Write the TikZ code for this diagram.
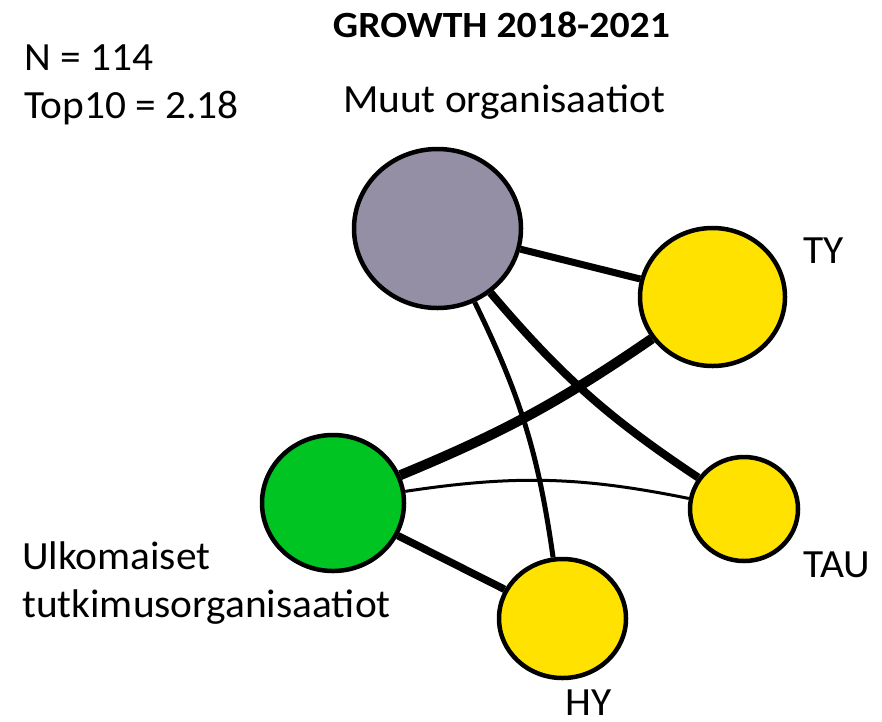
\documentclass[tikz,border=0pt]{standalone}
\usepackage{graphicx}
\usepackage{fontspec}
\setmainfont{Carlito}
\usetikzlibrary{shapes.geometric,backgrounds}
\definecolor{greyc}{RGB}{148,143,165}
\definecolor{yellowc}{RGB}{255,226,0}
\definecolor{greenc}{RGB}{0,196,34}
\newcommand{\widetxt}[1]{\scalebox{1.035}[1]{#1}}
\newcommand{\widettl}[1]{\scalebox{1.075}[1]{#1}}
\tikzset{
  org/.style={ellipse, draw=black, line width=4.5pt, inner sep=0pt},
  lbl/.style={inner sep=0pt, font=\fontsize{40}{48}\selectfont},
  ttl/.style={inner sep=0pt, font=\fontsize{37}{44}\selectfont\bfseries},
  link/.style={draw=black, line cap=butt}
}
\begin{document}
\begin{tikzpicture}[x=1pt,y=1pt]
\useasboundingbox (0,0) rectangle (882,-721);
% nodes
\node[org, fill=greyc, minimum width=167pt, minimum height=159pt] (muut) at (437.5,-228.5) {};
\node[org, fill=yellowc, minimum width=145pt, minimum height=138pt] (ty) at (712.5,-297) {};
\node[org, fill=greenc, minimum width=142pt, minimum height=136pt] (ulk) at (333,-503) {};
\node[org, fill=yellowc, minimum width=108pt, minimum height=104pt] (tau) at (744,-509) {};
\node[org, fill=yellowc, minimum width=127pt, minimum height=119pt] (hy) at (562.5,-618.5) {};
% texts
\node[ttl, anchor=base] (title) at (501.5,-37) {\widettl{GROWTH 2018-2021}};
\node[lbl, anchor=base west] (n) at (24,-70) {\widetxt{N = 114}};
\node[lbl, anchor=base west] (top) at (24,-118) {\widetxt{Top10 = 2.18}};
\node[lbl, anchor=base] (lmuut) at (504,-112) {\widetxt{Muut organisaatiot}};
\node[lbl, anchor=base west] (lty) at (803,-263) {\widetxt{TY}};
\node[lbl, anchor=base west] (ltau) at (803,-577) {\widetxt{TAU}};
\node[lbl, anchor=base west] (lhy) at (565,-715) {\widetxt{HY}};
\node[lbl, anchor=base west] (lulk1) at (22,-569) {\widetxt{Ulkomaiset}};
\node[lbl, anchor=base west] (lulk2) at (22,-617) {\widetxt{tutkimusorganisaatiot}};
% links
\begin{pgfonlayer}{background}
\fill[white] (0,0) rectangle (882,-721);
\draw[link, line width=7pt] (muut) -- (ty);
\draw[link, line width=8pt] (muut) to[bend right=8] (tau);
\draw[link, line width=5pt] (muut) to[bend left=9] (hy);
\draw[link, line width=10pt] (ulk) to[bend right=6] (ty);
\draw[link, line width=3pt] (ulk) to[bend left=10] (tau);
\draw[link, line width=7.5pt] (ulk) -- (hy);
\end{pgfonlayer}
\end{tikzpicture}
\end{document}
